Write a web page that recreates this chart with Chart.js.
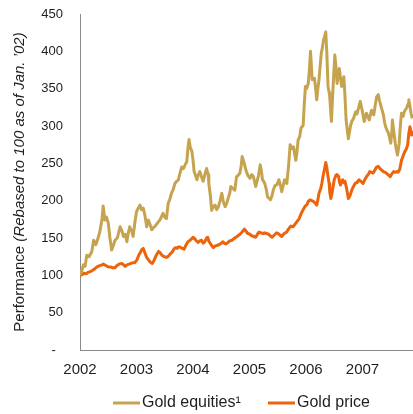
<!DOCTYPE html>
<html>
<head>
<meta charset="utf-8">
<script src="https://cdn.jsdelivr.net/npm/chart.js@4/dist/chart.umd.min.js"></script>
<style>
  html, body { margin: 0; padding: 0; background: #ffffff; }
  #wrap { width: 413px; height: 414px; position: relative; }
</style>
</head>
<body>
<div id="wrap"><canvas id="chart" width="413" height="414"></canvas></div>
<script>
// Performance series, rebased to 100 as of January 2002 (x = decimal year)
const equityYears = [
  2002.00,2002.03,2002.06,2002.09,2002.12,2002.16,2002.21,2002.24,2002.28,2002.32,
  2002.35,2002.39,2002.41,2002.44,2002.47,2002.50,2002.53,2002.56,2002.59,2002.62,
  2002.66,2002.71,2002.74,2002.77,2002.80,2002.83,2002.85,2002.88,2002.92,2002.94,
  2002.97,2003.00,2003.03,2003.06,2003.09,2003.12,2003.15,2003.18,2003.21,2003.24,
  2003.27,2003.30,2003.33,2003.36,2003.39,2003.42,2003.45,2003.47,2003.50,2003.53,
  2003.56,2003.59,2003.62,2003.65,2003.68,2003.71,2003.74,2003.77,2003.80,2003.83,
  2003.86,2003.89,2003.91,2003.93,2003.95,2003.98,2004.00,2004.02,2004.07,2004.09,
  2004.12,2004.15,2004.18,2004.21,2004.24,2004.27,2004.28,2004.31,2004.33,2004.36,
  2004.39,2004.42,2004.45,2004.48,2004.51,2004.54,2004.57,2004.60,2004.62,2004.65,
  2004.67,2004.71,2004.74,2004.77,2004.80,2004.83,2004.85,2004.87,2004.90,2004.92,
  2004.94,2004.97,2005.01,2005.04,2005.07,2005.11,2005.14,2005.16,2005.19,2005.21,
  2005.23,2005.25,2005.27,2005.30,2005.32,2005.35,2005.37,2005.40,2005.42,2005.45,
  2005.48,2005.50,2005.52,2005.55,2005.57,2005.59,2005.62,2005.64,2005.66,2005.69,
  2005.72,2005.75,2005.78,2005.80,2005.82,2005.84,2005.86,2005.89,2005.91,2005.93,
  2005.95,2005.97,2005.99,2006.01,2006.04,2006.06,2006.08,2006.11,2006.15,2006.17,
  2006.19,2006.21,2006.23,2006.25,2006.27,2006.29,2006.31,2006.33,2006.35,2006.37,
  2006.39,2006.41,2006.42,2006.45,2006.48,2006.51,2006.53,2006.55,2006.59,2006.61,
  2006.63,2006.67,2006.69,2006.71,2006.73,2006.75,2006.79,2006.81,2006.84,2006.88,
  2006.90,2006.93,2006.96,2007.00,2007.03,2007.05,2007.07,2007.12,2007.14,2007.16,
  2007.20,2007.23,2007.25,2007.28,2007.30,2007.33,2007.37,2007.39,2007.41,2007.43,
  2007.46,2007.48,2007.50,2007.52,2007.53,2007.55,2007.58,2007.60,2007.62,2007.63,
  2007.65,2007.67,2007.69,2007.72,2007.74,2007.76,2007.78,2007.81,2007.82,2007.84,
  2007.86,2007.88
];
const equityValues = [
  100,106,114,112,127,125,132,147,141,150,
  158,175,193,174,178,170,150,134,140,147,
  150,165,160,152,155,145,155,165,158,152,
  170,185,190,194,188,190,180,165,174,168,
  161,164,166,169,172,175,180,183,178,176,
  196,202,210,215,223,226,228,237,245,243,
  248,252,270,282,272,266,255,239,228,234,
  239,232,226,235,243,235,223,205,187,192,
  194,188,192,200,210,198,192,197,203,210,
  219,216,214,232,234,237,245,259,252,246,
  240,234,230,235,232,219,228,234,248,240,
  228,226,223,214,205,203,201,207,214,220,
  221,224,228,220,212,218,228,226,223,245,
  275,270,272,262,254,264,281,286,297,299,
  301,330,353,350,357,375,400,362,364,350,
  335,350,362,380,397,405,415,420,426,396,
  353,345,339,306,353,395,380,357,377,365,
  353,366,340,308,295,283,301,306,310,319,
  316,324,333,319,306,312,317,308,315,321,
  315,330,339,342,334,326,315,305,299,295,
  290,284,277,292,308,295,277,268,261,266,
  277,300,317,313,319,322,324,330,335,326,
  317,310
];

const priceYears = [
  2002.00,2002.04,2002.07,2002.11,2002.14,2002.18,2002.21,2002.25,2002.28,2002.32,
  2002.35,2002.39,2002.41,2002.44,2002.48,2002.51,2002.55,2002.58,2002.62,2002.65,
  2002.69,2002.74,2002.77,2002.80,2002.83,2002.87,2002.90,2002.94,2002.97,2003.01,
  2003.04,2003.07,2003.09,2003.12,2003.15,2003.18,2003.21,2003.24,2003.28,2003.31,
  2003.35,2003.39,2003.42,2003.45,2003.49,2003.53,2003.57,2003.59,2003.63,2003.66,
  2003.69,2003.72,2003.74,2003.77,2003.81,2003.84,2003.88,2003.91,2003.95,2003.98,
  2004.00,2004.02,2004.05,2004.09,2004.12,2004.15,2004.18,2004.21,2004.24,2004.26,
  2004.28,2004.32,2004.36,2004.39,2004.42,2004.46,2004.50,2004.53,2004.55,2004.58,
  2004.62,2004.65,2004.69,2004.74,2004.78,2004.83,2004.87,2004.91,2004.94,2004.97,
  2005.01,2005.04,2005.08,2005.11,2005.14,2005.17,2005.20,2005.24,2005.27,2005.30,
  2005.34,2005.37,2005.40,2005.44,2005.48,2005.51,2005.54,2005.57,2005.60,2005.63,
  2005.66,2005.69,2005.73,2005.77,2005.81,2005.84,2005.88,2005.91,2005.95,2005.98,
  2006.02,2006.04,2006.07,2006.10,2006.13,2006.16,2006.19,2006.21,2006.23,2006.26,
  2006.28,2006.30,2006.33,2006.35,2006.37,2006.38,2006.41,2006.42,2006.44,2006.46,
  2006.48,2006.50,2006.53,2006.55,2006.58,2006.59,2006.61,2006.63,2006.65,2006.67,
  2006.69,2006.72,2006.75,2006.78,2006.81,2006.84,2006.87,2006.90,2006.94,2006.97,
  2007.01,2007.04,2007.07,2007.11,2007.13,2007.16,2007.19,2007.22,2007.25,2007.28,
  2007.31,2007.34,2007.37,2007.40,2007.42,2007.45,2007.49,2007.52,2007.55,2007.58,
  2007.61,2007.63,2007.66,2007.69,2007.72,2007.75,2007.78,2007.80,2007.82,2007.84,
  2007.86,2007.87,2007.88
];
const priceValues = [
  100,101,103,102,104,105,106,108,110,112,
  113,114,115,114,112,111,111,110,110,113,
  115,116,114,112,114,115,116,117,117,121,
  127,131,134,136,130,124,121,118,116,120,
  127,132,130,127,125,124,126,128,131,135,
  137,136,138,138,136,135,141,145,147,149,
  151,150,147,144,146,147,143,145,150,151,
  146,141,137,139,140,141,143,145,143,142,
  144,146,147,150,152,155,158,162,159,156,
  155,153,152,151,155,158,157,156,157,156,
  155,153,151,154,157,156,154,152,155,157,
  158,162,166,165,169,172,176,182,188,192,
  195,199,201,200,199,197,194,201,210,216,
  223,232,243,251,244,237,223,212,203,210,
  219,228,234,235,232,226,221,226,228,224,
  226,216,203,207,214,219,223,224,228,226,
  223,228,232,236,239,238,237,241,245,246,
  243,241,239,238,237,235,232,236,239,238,
  239,238,242,254,260,266,270,275,290,299,
  292,288,292
];

const yTicks = [0, 50, 100, 150, 200, 250, 300, 350, 400, 450];
const xTicks = [2002, 2003, 2004, 2005, 2006, 2007];
const seriesNames = ['Gold equities\u00B9', 'Gold price'];
const seriesColors = ['#C6A44F', '#EC640C'];
const axisTitle = ['Performance ', '(Rebased to 100 as of Jan. \u201902)'];

const FONT = '"Liberation Sans", Arial, sans-serif';
const TEXT = '#1f1f1f';
const AXIS = '#8a8a8a';

function toPoints(xs, ys) { return xs.map((x, i) => ({ x: x, y: ys[i] })); }

// Rotated y-axis title (plain + italic part) and the legend below the axis
const decorations = {
  id: 'decorations',
  afterDraw(chart) {
    const ctx = chart.ctx;
    const area = chart.chartArea;
    ctx.save();
    // axis title
    ctx.translate(20, (area.top + area.bottom) / 2);
    ctx.rotate(-Math.PI / 2);
    ctx.fillStyle = TEXT;
    ctx.textBaseline = 'middle';
    ctx.font = '15px ' + FONT;
    const w1 = ctx.measureText(axisTitle[0]).width;
    ctx.font = 'italic 15px ' + FONT;
    const w2 = ctx.measureText(axisTitle[1]).width;
    let x = -(w1 + w2) / 2;
    ctx.font = '15px ' + FONT;
    ctx.textAlign = 'left';
    ctx.fillText(axisTitle[0], x, 0);
    ctx.font = 'italic 15px ' + FONT;
    ctx.fillText(axisTitle[1], x + w1, 0);
    ctx.restore();

    // legend
    ctx.save();
    const ly = 403;
    const starts = [113, 268];
    ctx.font = '16px ' + FONT;
    ctx.textBaseline = 'middle';
    ctx.textAlign = 'left';
    seriesNames.forEach((name, i) => {
      ctx.strokeStyle = seriesColors[i];
      ctx.lineWidth = 3;
      ctx.beginPath();
      ctx.moveTo(starts[i], ly);
      ctx.lineTo(starts[i] + 27, ly);
      ctx.stroke();
      ctx.fillStyle = TEXT;
      ctx.fillText(name, starts[i] + 29, ly);
    });
    ctx.restore();
  }
};

new Chart(document.getElementById('chart'), {
  type: 'line',
  data: {
    datasets: [
      {
        label: seriesNames[0],
        data: toPoints(equityYears, equityValues),
        borderColor: seriesColors[0],
        borderWidth: 3,
        pointRadius: 0,
        tension: 0,
        borderJoinStyle: 'round',
        fill: false
      },
      {
        label: seriesNames[1],
        data: toPoints(priceYears, priceValues),
        borderColor: seriesColors[1],
        borderWidth: 3,
        pointRadius: 0,
        tension: 0,
        borderJoinStyle: 'round',
        fill: false
      }
    ]
  },
  options: {
    responsive: false,
    animation: false,
    devicePixelRatio: 1,
    layout: { padding: { top: 14, right: 0, left: 0, bottom: 0 } },
    plugins: {
      legend: { display: false },
      tooltip: { enabled: false }
    },
    scales: {
      x: {
        type: 'linear',
        min: 2002,
        max: 2007.894,
        grid: { display: false, drawTicks: false },
        border: { display: true, color: AXIS, width: 1 },
        afterBuildTicks(scale) { scale.ticks = xTicks.map(v => ({ value: v })); },
        afterFit(scale) {
          scale.height = 64;
          scale.paddingLeft = 0;
          scale.paddingRight = 0;
        },
        ticks: {
          includeBounds: false,
          maxRotation: 0,
          autoSkip: false,
          padding: 11,
          color: TEXT,
          font: { family: FONT, size: 15 },
          callback: v => String(v)
        }
      },
      y: {
        min: 0,
        max: 450,
        grid: { display: false, drawTicks: false },
        border: { display: true, color: AXIS, width: 1 },
        afterBuildTicks(scale) { scale.ticks = yTicks.map(v => ({ value: v })); },
        afterFit(scale) {
          scale.width = 80;
          scale.paddingTop = 0;
          scale.paddingBottom = 0;
        },
        ticks: {
          padding: 17,
          color: TEXT,
          font: { family: FONT, size: 13 },
          callback: v => (v === 0 ? '-  ' : String(v))
        }
      }
    }
  },
  plugins: [decorations]
});
</script>
</body>
</html>
